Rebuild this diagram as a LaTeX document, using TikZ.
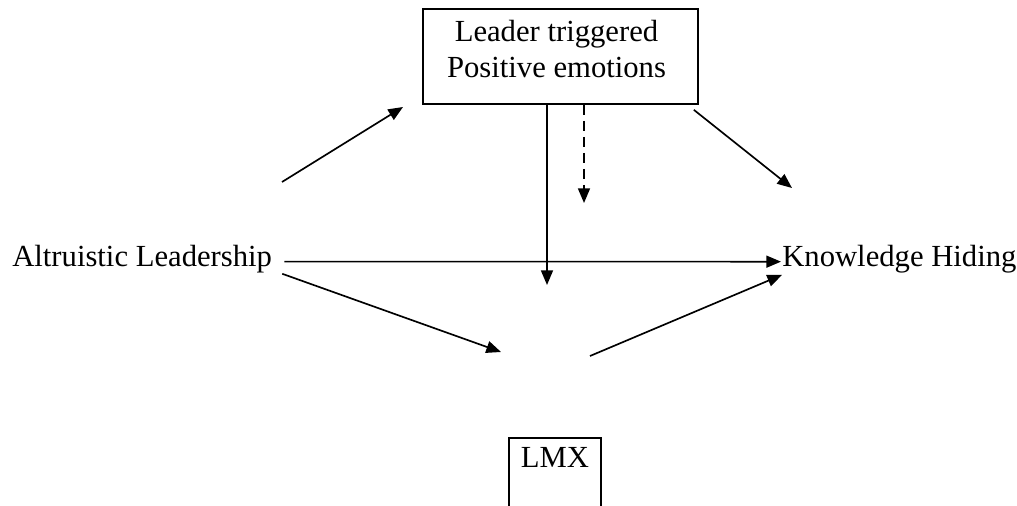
\documentclass[tikz,border=0pt]{standalone}
\usepackage{fontspec}
\setmainfont{Liberation Serif}
\usetikzlibrary{arrows.meta}

\begin{document}
\begin{tikzpicture}[x=0.75pt, y=-0.75pt,
    font=\fontsize{23}{27}\selectfont,
    txt/.style={inner sep=0pt},
    box/.style={draw, line width=1.5pt, inner sep=0pt},
    arr/.style={line width=1.25pt, -{Triangle[length=11pt,width=9pt]}}]

    \useasboundingbox (0,0) rectangle (1017,506);

    % Outer variables
    \node[txt, anchor=base west] (al) at (12,266) {Altruistic Leadership};
    \node[txt, anchor=base west] (kh) at (782,266) {Knowledge Hiding};

    % Mediator boxes
    \node[box, minimum width=206pt, minimum height=71pt,
          label={[txt, align=center, anchor=north, xshift=-3pt, yshift=-8.5pt]north:Leader triggered\\Positive emotions}]
          (pe) at (560.5,56.5) {};
    \node[box, anchor=north, minimum width=69pt, minimum height=90pt,
          label={[txt, anchor=north, yshift=-7.5pt]north:LMX}]
          (lmx) at (555,437) {};

    % Free ends of the arrows
    \coordinate (up1) at (282,182);
    \coordinate (up2) at (403,107);
    \coordinate (down1) at (792,188);
    \coordinate (mid) at (547,285);
    \coordinate (dsh) at (584,203);
    \coordinate (low1) at (501,352);
    \coordinate (low2) at (590,356);

    % Arrows
    \draw[arr] (up1) -- (up2);
    \draw[arr] ([shift={(-5,5)}]pe.south east) -- (down1);
    \draw[arr] (mid |- pe.south) -- (mid);
    \draw[arr, dash pattern=on 7.5pt off 4.5pt] (dsh |- pe.south) -- (dsh);
    \draw[arr] ([shift={(12,3)}]al.east) -- ([shift={(-1,3)}]kh.west);
    \draw[arr] ([shift={(10,1)}]al.south east) -- (low1);
    \draw[arr] (low2) -- ([shift={(0,2)}]kh.south west);

\end{tikzpicture}
\end{document}
